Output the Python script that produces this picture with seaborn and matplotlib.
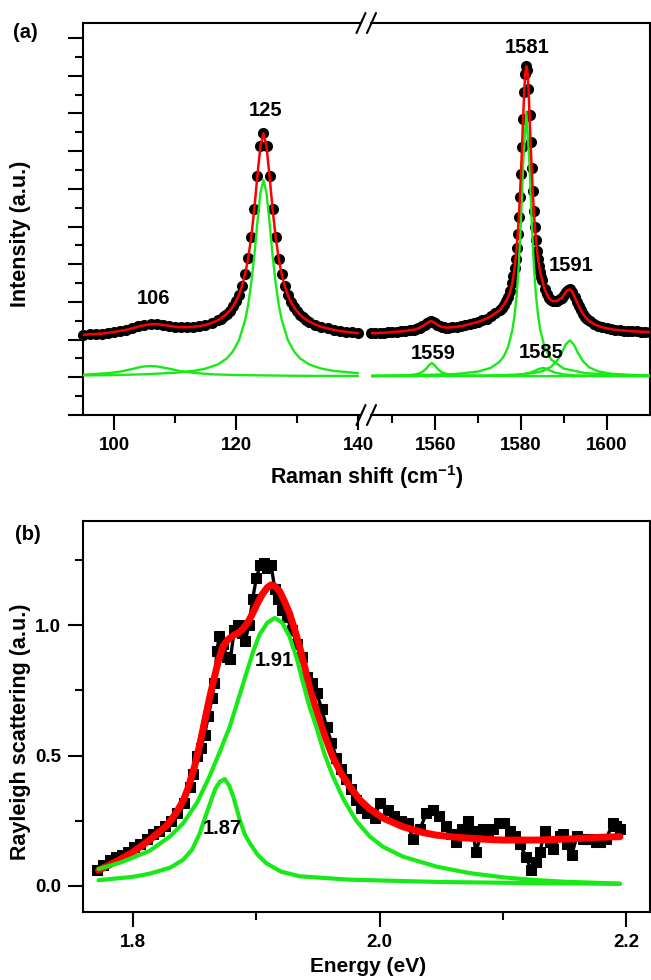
import numpy as np
import seaborn as sns
import matplotlib
matplotlib.use("Agg")
from matplotlib import pyplot as plt
from matplotlib.lines import Line2D

# ---- (a) Raman, low-wavenumber segment ----
raman_lo_x = [95, 96, 97, 98, 99, 100, 101, 102, 103, 104, 105, 106, 107, 108, 109, 110,
              111, 112, 113, 114, 115, 116, 117, 117.5, 118, 118.5, 119, 119.5, 120, 120.5,
              121, 121.5, 122, 122.5, 123, 123.5, 124, 124.5, 125, 125.5, 126, 126.5, 127,
              127.5, 128, 128.5, 129, 129.5, 130, 130.5, 131, 131.5, 132, 133, 134, 135,
              136, 137, 138, 139, 140]
raman_lo_y = [1.13, 1.14, 1.15, 1.16, 1.18, 1.20, 1.23, 1.26, 1.30, 1.35, 1.38, 1.41, 1.41,
              1.39, 1.37, 1.34, 1.33, 1.33, 1.34, 1.36, 1.39, 1.44, 1.51, 1.56, 1.62, 1.69,
              1.77, 1.88, 2.02, 2.19, 2.43, 2.74, 3.16, 3.72, 4.47, 5.34, 6.13, 6.47, 6.13,
              5.33, 4.46, 3.72, 3.15, 2.73, 2.41, 2.18, 2.00, 1.86, 1.75, 1.66, 1.59, 1.53,
              1.48, 1.40, 1.34, 1.30, 1.26, 1.23, 1.21, 1.19, 1.17]

g106_x = [95, 97, 99, 101, 103, 104, 105, 106, 107, 108, 109, 111, 113, 116, 120, 125, 130, 140]
g106_y = [0.07, 0.09, 0.11, 0.15, 0.22, 0.26, 0.29, 0.30, 0.29, 0.26, 0.23, 0.16, 0.12, 0.08,
          0.06, 0.05, 0.04, 0.035]

g125_x = [95, 100, 105, 110, 113, 115, 117, 118.5, 119.5, 120.5, 121.5, 122, 122.5, 123,
          123.5, 124, 124.5, 125, 125.5, 126, 126.5, 127, 127.5, 128.5, 129.5, 130.5, 132,
          134, 136, 140]
g125_y = [0.05, 0.06, 0.08, 0.12, 0.17, 0.23, 0.34, 0.50, 0.69, 0.99, 1.52, 1.93, 2.50, 3.23,
          4.10, 4.89, 5.23, 4.89, 4.10, 3.23, 2.50, 1.93, 1.52, 0.99, 0.69, 0.50, 0.34, 0.23,
          0.17, 0.11]

# ---- (a) Raman, G-band segment ----
raman_hi_x = [1545, 1546, 1547, 1548, 1549, 1550, 1551, 1552, 1553, 1554, 1555, 1555.5, 1556,
              1556.5, 1557, 1557.5, 1558, 1558.5, 1559, 1559.5, 1560, 1560.5, 1561, 1561.5,
              1562, 1562.5, 1563, 1564, 1565, 1566, 1567, 1568, 1569, 1570, 1571, 1572, 1573,
              1574, 1575, 1575.5, 1576, 1576.5, 1577, 1577.5, 1578, 1578.25, 1578.5, 1578.75,
              1579, 1579.25, 1579.5, 1579.75, 1580, 1580.25, 1580.5, 1580.75, 1581, 1581.25,
              1581.5, 1581.75, 1582, 1582.25, 1582.5, 1582.75, 1583, 1583.25, 1583.5, 1583.75,
              1584, 1584.25, 1584.5, 1584.75, 1585, 1585.5, 1586, 1586.5, 1587, 1587.5, 1588,
              1588.5, 1589, 1589.5, 1590, 1590.5, 1591, 1591.5, 1592, 1592.5, 1593, 1593.5,
              1594, 1594.5, 1595, 1595.5, 1596, 1597, 1598, 1599, 1600, 1601, 1602, 1603,
              1604, 1605, 1606, 1607, 1608, 1609, 1610]
raman_hi_y = [1.17, 1.17, 1.18, 1.18, 1.19, 1.20, 1.21, 1.22, 1.23, 1.25, 1.26, 1.28, 1.30,
              1.32, 1.35, 1.39, 1.43, 1.47, 1.49, 1.47, 1.43, 1.39, 1.36, 1.34, 1.33, 1.32,
              1.32, 1.33, 1.34, 1.36, 1.38, 1.41, 1.44, 1.47, 1.51, 1.56, 1.62, 1.70, 1.78,
              1.85, 1.93, 2.02, 2.13, 2.28, 2.50, 2.69, 2.90, 3.14, 3.44, 3.80, 4.24, 4.78,
              5.40, 6.11, 6.86, 7.56, 8.06, 8.25, 8.15, 7.66, 6.97, 6.23, 5.54, 4.93, 4.41,
              3.99, 3.65, 3.36, 3.13, 2.95, 2.80, 2.67, 2.57, 2.35, 2.22, 2.11, 2.05, 2.02,
              2.02, 2.03, 2.07, 2.11, 2.18, 2.27, 2.32, 2.33, 2.26, 2.14, 2.01, 1.88, 1.78,
              1.68, 1.60, 1.54, 1.49, 1.42, 1.36, 1.33, 1.30, 1.28, 1.26, 1.25, 1.24, 1.23,
              1.22, 1.22, 1.21, 1.21, 1.20]

g1559_x = [1545, 1550, 1553, 1555, 1556, 1557, 1558, 1558.5, 1559.2, 1560, 1560.5, 1561.5,
           1563, 1565, 1570, 1580, 1610]
g1559_y = [0.034, 0.039, 0.049, 0.07, 0.093, 0.141, 0.243, 0.317, 0.38, 0.303, 0.23, 0.134,
           0.077, 0.052, 0.037, 0.032, 0.03]

g1581_x = [1545, 1555, 1565, 1570, 1573, 1575, 1576, 1577, 1578, 1578.5, 1579, 1579.5, 1580,
           1580.5, 1581.25, 1582, 1582.5, 1583, 1583.5, 1584, 1584.5, 1585.5, 1587, 1590,
           1595, 1600, 1610]
g1581_y = [0.042, 0.053, 0.089, 0.152, 0.254, 0.411, 0.558, 0.805, 1.26, 1.64, 2.18, 2.99,
           4.16, 5.63, 7.05, 5.63, 4.16, 2.99, 2.18, 1.64, 1.26, 0.805, 0.476, 0.23, 0.112,
           0.075, 0.049]

g1585_x = [1545, 1570, 1575, 1578, 1580, 1582, 1583, 1584, 1585.1, 1586, 1587, 1588, 1590,
           1593, 1600, 1610]
g1585_y = [0.031, 0.036, 0.043, 0.052, 0.073, 0.117, 0.159, 0.214, 0.25, 0.225, 0.169, 0.124,
           0.075, 0.05, 0.036, 0.032]

g1591_x = [1545, 1560, 1570, 1575, 1580, 1583, 1585, 1587, 1588.5, 1589.5, 1590.5, 1591.4,
           1592.3, 1593.3, 1594.5, 1596, 1598, 1601, 1605, 1610]
g1591_y = [0.033, 0.036, 0.044, 0.053, 0.077, 0.113, 0.165, 0.276, 0.453, 0.65, 0.878, 0.98,
           0.878, 0.65, 0.422, 0.26, 0.158, 0.095, 0.063, 0.048]

# ---- (b) Rayleigh scattering ----
ray_x = [1.771, 1.776, 1.781, 1.786, 1.791, 1.796, 1.801, 1.806, 1.811, 1.816,
         1.821, 1.826, 1.831, 1.836, 1.841, 1.846, 1.849, 1.852, 1.855, 1.858,
         1.861, 1.864, 1.866, 1.868, 1.870, 1.873, 1.876, 1.879, 1.882, 1.885,
         1.888, 1.891, 1.894, 1.897, 1.900, 1.903, 1.906, 1.909, 1.912, 1.915,
         1.918, 1.921, 1.925, 1.929, 1.933, 1.937, 1.941, 1.945, 1.949, 1.953,
         1.957, 1.961, 1.965, 1.969, 1.973, 1.977, 1.981, 1.985, 1.990, 1.996,
         2.000, 2.007, 2.012, 2.017, 2.023, 2.027, 2.033, 2.038, 2.043, 2.048,
         2.054, 2.058, 2.062, 2.067, 2.072, 2.076, 2.078, 2.084, 2.088, 2.092,
         2.097, 2.101, 2.106, 2.110, 2.114, 2.119, 2.123, 2.127, 2.130, 2.134,
         2.138, 2.141, 2.146, 2.149, 2.152, 2.156, 2.160, 2.165, 2.169, 2.172,
         2.176, 2.179, 2.184, 2.189, 2.192, 2.195]
ray_y = [0.06, 0.08, 0.10, 0.11, 0.12, 0.13, 0.15, 0.16, 0.18, 0.20,
         0.21, 0.23, 0.25, 0.28, 0.32, 0.38, 0.43, 0.50, 0.53, 0.58,
         0.65, 0.72, 0.78, 0.90, 0.96, 0.93, 0.88, 0.87, 0.98, 1.00,
         0.97, 0.94, 1.00, 1.10, 1.18, 1.23, 1.24, 1.22, 1.23, 1.14,
         1.10, 1.06, 1.03, 0.98, 0.93, 0.88, 0.80, 0.78, 0.74, 0.68,
         0.61, 0.55, 0.49, 0.45, 0.41, 0.37, 0.33, 0.30, 0.28, 0.26,
         0.32, 0.29, 0.27, 0.25, 0.24, 0.18, 0.22, 0.28, 0.29, 0.27,
         0.23, 0.20, 0.17, 0.22, 0.25, 0.21, 0.13, 0.22, 0.21, 0.22,
         0.24, 0.24, 0.21, 0.19, 0.16, 0.11, 0.06, 0.09, 0.13, 0.21,
         0.17, 0.14, 0.19, 0.20, 0.16, 0.12, 0.19, 0.18, 0.18, 0.18,
         0.17, 0.17, 0.18, 0.24, 0.23, 0.22]

fit_x = [1.772, 1.785, 1.800, 1.813, 1.827, 1.835, 1.841, 1.845, 1.850, 1.854, 1.858, 1.862,
         1.865, 1.869, 1.873, 1.877, 1.881, 1.885, 1.889, 1.893, 1.897, 1.901, 1.905, 1.909,
         1.912, 1.915, 1.919, 1.923, 1.927, 1.931, 1.935, 1.939, 1.943, 1.947, 1.951, 1.956,
         1.962, 1.969, 1.976, 1.984, 1.992, 2.003, 2.019, 2.035, 2.046, 2.060, 2.073, 2.090,
         2.100, 2.127, 2.154, 2.181, 2.195]
fit_y = [0.06, 0.09, 0.13, 0.175, 0.23, 0.28, 0.33, 0.38, 0.46, 0.54, 0.63, 0.72, 0.78, 0.86,
         0.92, 0.945, 0.96, 0.97, 0.985, 1.01, 1.045, 1.085, 1.12, 1.145, 1.155, 1.15, 1.13,
         1.09, 1.045, 0.985, 0.92, 0.845, 0.765, 0.70, 0.64, 0.57, 0.495, 0.43, 0.38, 0.33,
         0.295, 0.26, 0.227, 0.205, 0.195, 0.188, 0.183, 0.178, 0.176, 0.176, 0.180, 0.187,
         0.189]

p191_x = [1.772, 1.790, 1.8135, 1.830, 1.8406, 1.852, 1.862, 1.870, 1.8784, 1.885, 1.8919,
          1.8975, 1.9027, 1.909, 1.915, 1.921, 1.9271, 1.933, 1.9379, 1.943, 1.9487, 1.955,
          1.9622, 1.971, 1.9811, 1.992, 2.0028, 2.0192, 2.0463, 2.0733, 2.1003, 2.122, 2.150,
          2.195]
p191_y = [0.065, 0.09, 0.135, 0.19, 0.24, 0.32, 0.42, 0.51, 0.61, 0.71, 0.815, 0.90, 0.965,
          1.01, 1.028, 1.01, 0.955, 0.87, 0.78, 0.69, 0.61, 0.51, 0.42, 0.33, 0.25, 0.19, 0.15,
          0.112, 0.074, 0.049, 0.033, 0.024, 0.016, 0.009]

p187_x = [1.772, 1.800, 1.8135, 1.830, 1.8406, 1.848, 1.854, 1.859, 1.8635, 1.867, 1.8705,
          1.8744, 1.878, 1.8815, 1.8865, 1.8905, 1.8946, 1.901, 1.9081, 1.920, 1.9352, 1.9757,
          2.050, 2.122, 2.195]
p187_y = [0.022, 0.035, 0.047, 0.07, 0.10, 0.14, 0.20, 0.27, 0.33, 0.375, 0.40, 0.41, 0.385,
          0.34, 0.255, 0.20, 0.165, 0.12, 0.087, 0.055, 0.037, 0.024, 0.015, 0.011, 0.008]

RED = '#ff0000'
GREEN = '#18ea18'

sns.set_style('ticks')
plt.rcParams['font.family'] = ['Liberation Sans', 'DejaVu Sans']
plt.rcParams['font.weight'] = 'bold'
plt.rcParams['axes.labelweight'] = 'bold'
plt.rcParams['mathtext.fontset'] = 'custom'
plt.rcParams['mathtext.rm'] = 'Liberation Sans:bold'
plt.rcParams['mathtext.bf'] = 'Liberation Sans:bold'
plt.rcParams['mathtext.default'] = 'bf'
for k in ('axes.edgecolor', 'xtick.color', 'ytick.color', 'text.color',
          'axes.labelcolor', 'xtick.labelcolor', 'ytick.labelcolor'):
    plt.rcParams[k] = 'black'

W, H = 651, 980
fig = plt.figure(figsize=(W / 100, H / 100), dpi=100)


def box(x0, y0, x1, y1):
    return [x0 / W, 1 - y1 / H, (x1 - x0) / W, (y1 - y0) / H]


ax_lo = fig.add_axes(box(83, 23, 361, 415))
ax_hi = fig.add_axes(box(371, 23, 649.5, 415))
ax_b = fig.add_axes(box(83, 521, 649.5, 912))


def line(ax, x, y, color, lw, z, **kw):
    sns.lineplot(x=x, y=y, ax=ax, color=color, lw=lw, estimator=None, sort=False,
                 zorder=z, **kw)


def style(ax):
    for s in ax.spines.values():
        s.set_linewidth(1.5)
        s.set_color('black')
    ax.tick_params(which='major', direction='out', length=11, width=1.5,
                   labelsize=13.5, pad=5, colors='black')
    ax.tick_params(which='minor', direction='out', length=6, width=1.5, colors='black')
    ax.set_xlabel('')
    ax.set_ylabel('')


# panel (a) low segment
sns.scatterplot(x=raman_lo_x, y=raman_lo_y, ax=ax_lo, color='black', s=64,
                linewidth=0, zorder=2, clip_on=False)
line(ax_lo, g106_x, g106_y, GREEN, 1.7, 3)
line(ax_lo, g125_x, g125_y, GREEN, 1.7, 3)
line(ax_lo, raman_lo_x, raman_lo_y, RED, 1.8, 4)
ax_lo.set_xlim(94.92, 140.49)
ax_lo.set_ylim(-1, 9.4)
style(ax_lo)
ax_lo.spines['right'].set_visible(False)
ax_lo.set_xticks([100, 120, 140])
ax_lo.set_xticks([110, 130], minor=True)
ax_lo.set_yticks(range(-1, 10))
ax_lo.set_yticks(np.arange(-0.5, 9.5, 1), minor=True)
ax_lo.set_yticklabels([])
ax_lo.text(124.9, 7.08, '125', ha='center', va='center', fontsize=14.5)
ax_lo.text(106.5, 2.09, '106', ha='center', va='center', fontsize=14.5)

# panel (a) high segment
sns.scatterplot(x=raman_hi_x, y=raman_hi_y, ax=ax_hi, color='black', s=64,
                linewidth=0, zorder=2, clip_on=False)
for gx, gy in [(g1559_x, g1559_y), (g1581_x, g1581_y), (g1585_x, g1585_y),
               (g1591_x, g1591_y)]:
    line(ax_hi, gx, gy, GREEN, 1.7, 3)
line(ax_hi, raman_hi_x, raman_hi_y, RED, 1.8, 4)
ax_hi.set_xlim(1545, 1610)
ax_hi.set_ylim(-1, 9.4)
style(ax_hi)
ax_hi.spines['left'].set_visible(False)
ax_hi.tick_params(axis='y', which='both', left=False, labelleft=False)
ax_hi.set_xticks([1560, 1580, 1600])
ax_hi.set_xticks([1550, 1570, 1590], minor=True)
ax_hi.text(1581.5, 8.76, '1581', ha='center', va='center', fontsize=14.5)
ax_hi.text(1591.7, 2.97, '1591', ha='center', va='center', fontsize=14.5)
ax_hi.text(1559.6, 0.63, '1559', ha='center', va='center', fontsize=14.5)
ax_hi.text(1584.8, 0.67, '1585', ha='center', va='center', fontsize=14.5)

# break marks
for xc in (361, 371.5):
    for yc in (23, 415):
        fig.add_artist(Line2D([(xc - 4.5) / W, (xc + 4.5) / W],
                              [1 - (yc + 10) / H, 1 - (yc - 10) / H],
                              color='black', lw=1.5))

fig.text(367 / W, 1 - 477 / H, 'Raman shift (cm$^{\\mathbf{-1}}$)', ha='center',
         va='center', fontsize=15.5)
fig.text(21 / W, 1 - 234 / H, 'Intensity (a.u.)', ha='center', va='center',
         rotation=90, fontsize=15.5)
fig.text(25.7 / W, 1 - 33 / H, '(a)', ha='center', va='center', fontsize=14.5)

# panel (b)
line(ax_b, ray_x, ray_y, 'black', 2.4, 2, marker='s', markersize=6.5,
     markeredgecolor='black', markerfacecolor='black')
line(ax_b, fit_x, fit_y, RED, 5, 3)
line(ax_b, p191_x, p191_y, GREEN, 3, 4)
line(ax_b, p187_x, p187_y, GREEN, 3, 4)
ax_b.set_xlim(1.7594, 2.219)
ax_b.set_ylim(-0.1, 1.4)
style(ax_b)
ax_b.set_xticks([1.8, 2.0, 2.2])
ax_b.set_xticks([1.9, 2.1], minor=True)
ax_b.set_yticks([0.0, 0.5, 1.0])
ax_b.set_yticks([0.25, 0.75, 1.25], minor=True)
ax_b.set_xticklabels(['1.8', '2.0', '2.2'])
ax_b.set_yticklabels(['0.0', '0.5', '1.0'])
ax_b.text(1.915, 0.866, '1.91', ha='center', va='center', fontsize=14.5, zorder=5)
ax_b.text(1.8727, 0.222, '1.87', ha='center', va='center', fontsize=14.5, zorder=5)

fig.text(368 / W, 1 - 966 / H, 'Energy (eV)', ha='center', va='center', fontsize=15)
fig.text(21 / W, 1 - 732 / H, 'Rayleigh scattering (a.u.)', ha='center', va='center',
         rotation=90, fontsize=15.5)
fig.text(28.3 / W, 1 - 535 / H, '(b)', ha='center', va='center', fontsize=14.5)

for a in (ax_lo, ax_hi, ax_b):
    leg = a.get_legend()
    if leg is not None:
        leg.remove()

fig.savefig('out.png', dpi=100)
